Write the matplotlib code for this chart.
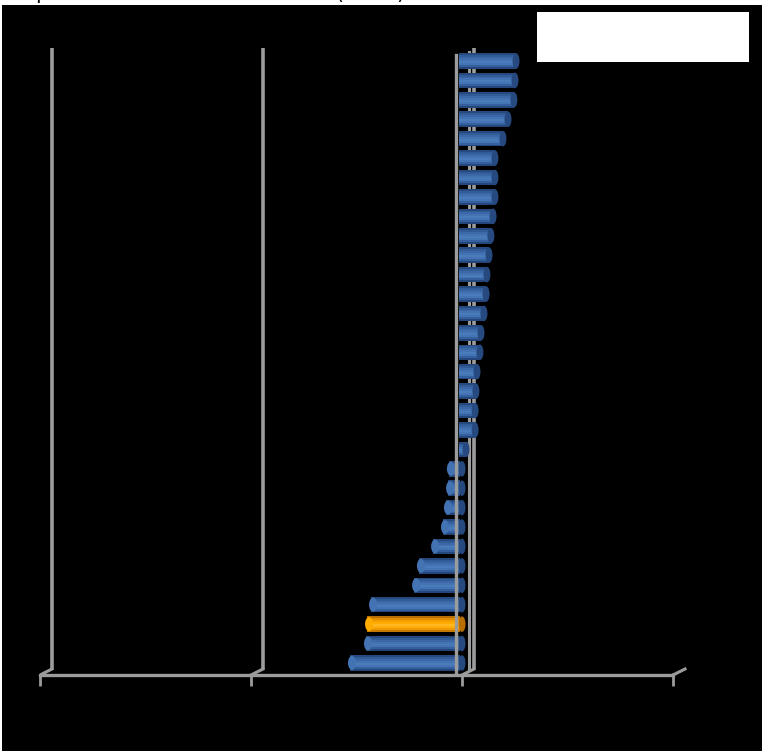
import numpy as np
import matplotlib
matplotlib.use("Agg")
import matplotlib.pyplot as plt
from matplotlib.patches import Ellipse, Rectangle

# values, top bar first
values = [2.56, 2.51, 2.46, 2.18, 1.94, 1.56, 1.56, 1.56, 1.47, 1.37,
          1.28, 1.18, 1.14, 1.04, 0.90, 0.85, 0.71, 0.66, 0.62, 0.62,
          0.19, -0.62, -0.66, -0.76, -0.90, -1.37, -2.04, -2.27, -4.31,
          -4.50, -4.55, -5.31]
highlight = 29  # the orange bar
xticks = [-20, -10, 0, 10]
title = "pct. rate of increase in units (2010)"

blue = ["#24467a", "#3560a0", "#4474b3", "#4a7bba", "#4373b2", "#3c68a7", "#325c98", "#26497f"]
orange = ["#c67a00", "#f09a00", "#ffae10", "#ffb820", "#ffab00", "#f59f00", "#e08d00", "#b86f00"]
grid_col = "#9c9c9c"

W, H = 762, 751
fig = plt.figure(figsize=(W / 100, H / 100), dpi=100, facecolor="white")
# title sits mostly above the top edge, only its descenders show
fig.text(36 / W, 1 + 1 / H, title, fontsize=15, color="black", va="baseline", ha="left")
fig.patches.append(Rectangle((2 / W, 0), 1, 1 - 5 / H, transform=fig.transFigure,
                             facecolor="black", edgecolor="none", zorder=1))

ax = fig.add_axes([40 / W, 76 / H, 633 / W, 627 / H])
ax.set_facecolor("none")
ax.set_zorder(2)

n = len(values)
ypos = np.arange(n)[::-1]
ylo, yhi = -0.62, 31.67
px_x = 633 / 30.0
px_y = 627 / (yhi - ylo)
dx = 12 / px_x
dy = 6 / px_y

# back wall / gridlines
for t in xticks:
    ax.plot([t + dx, t + dx], [ylo + dy, yhi], color=grid_col, lw=2.6, zorder=1,
            solid_capstyle="butt")
    ax.plot([t, t + dx], [ylo, ylo + dy], color=grid_col, lw=2.2, zorder=1)
ax.plot([7 / px_x, 7 / px_x], [ylo + dy, yhi - 0.2], color=grid_col, lw=2.2, zorder=1)

# cylinder bars, drawn as stacked strips
h = 0.8
ns = len(blue)
base = -3 / px_x
for k in range(ns):
    cols = [orange[k] if i == highlight else blue[k] for i in range(n)]
    off = -h / 2 + (k + 0.5) * h / ns
    widths = [v - base if v > 0 else v + 2 / px_x for v in values]
    lefts = [base if v > 0 else -2 / px_x for v in values]
    ax.barh(ypos + off, widths, height=h / ns, left=lefts, color=cols, lw=0, zorder=3)

for i, v in enumerate(values):
    pal = orange if i == highlight else blue
    right = max(v, 0)
    ax.add_patch(Ellipse((right, ypos[i]), 7 / px_x, h, facecolor=pal[7],
                         edgecolor="none", zorder=4))
    if v < 0:
        ax.add_patch(Ellipse((v + 2 / px_x, ypos[i]), 8 / px_x, h * 0.9, facecolor=pal[4],
                             edgecolor="none", zorder=3.5))

# front edge of the category wall
ax.plot([-6 / px_x, -6 / px_x], [ylo, yhi - 0.35], color=grid_col, lw=2.4, zorder=5)

ax.set_xlim(-20, 10)
ax.set_ylim(ylo, yhi)
ax.set_xticks(xticks)
ax.set_xticklabels([str(t) for t in xticks])
ax.set_yticks([])
ax.tick_params(axis="x", direction="out", length=8, width=2, color=grid_col,
               labelcolor="black")
for s in ["top", "right", "left"]:
    ax.spines[s].set_visible(False)
ax.spines["bottom"].set_color(grid_col)
ax.spines["bottom"].set_linewidth(2.4)
ax.plot([10, 10 + dx], [ylo, ylo + dy], color=grid_col, lw=2.2, zorder=1, clip_on=False)

# empty white legend box
fig.patches.append(Rectangle((537 / W, 1 - 62 / H), 212 / W, 50 / H,
                             transform=fig.transFigure, facecolor="white",
                             edgecolor="none", zorder=3))

fig.savefig("out.png", dpi=100, facecolor=fig.get_facecolor())
